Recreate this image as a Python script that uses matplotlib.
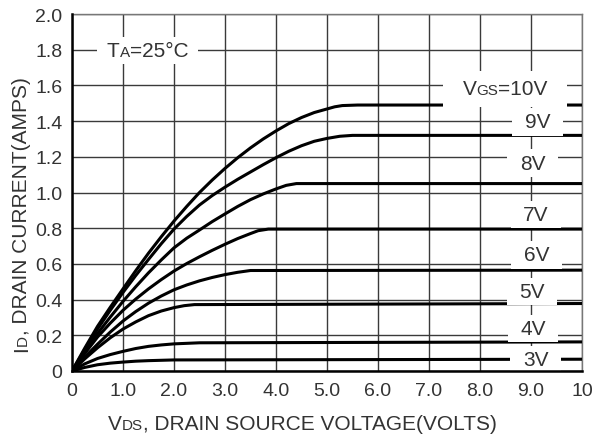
import matplotlib
matplotlib.use("Agg")
import matplotlib.pyplot as plt
from matplotlib.offsetbox import TextArea, HPacker, AnnotationBbox, DrawingArea
from matplotlib.font_manager import FontProperties
from matplotlib.transforms import IdentityTransform

FONT = "Liberation Sans"
TXT = "#333333"

# ---- data ----
vds_10v = [0, 0.25, 0.5, 0.75, 1, 1.25, 1.5, 1.75, 2, 2.25, 2.5, 2.75, 3, 3.25, 3.5,
           3.75, 4, 4.25, 4.5, 4.75, 5, 5.15, 5.3, 5.6, 10]
id_10v = [0, 0.128, 0.25, 0.357, 0.46, 0.562, 0.66, 0.752, 0.84, 0.922, 1.0, 1.07, 1.135,
          1.195, 1.25, 1.30, 1.345, 1.386, 1.42, 1.448, 1.468, 1.48, 1.487, 1.49, 1.49]

vds_9v = [0, 0.25, 0.5, 0.75, 1, 1.25, 1.5, 1.75, 2, 2.25, 2.5, 2.75, 3, 3.25, 3.5,
          3.75, 4, 4.25, 4.5, 4.75, 5, 5.25, 5.5, 10]
id_9v = [0, 0.12, 0.235, 0.34, 0.44, 0.535, 0.625, 0.713, 0.795, 0.866, 0.93, 0.983, 1.03,
         1.074, 1.115, 1.156, 1.195, 1.231, 1.262, 1.287, 1.303, 1.315, 1.32, 1.32]

vds_8v = [0, 0.25, 0.5, 0.75, 1, 1.25, 1.5, 1.75, 2, 2.25, 2.5, 2.75, 3, 3.25, 3.5,
          3.75, 4, 4.2, 4.4, 10]
id_8v = [0, 0.108, 0.21, 0.302, 0.39, 0.472, 0.55, 0.622, 0.69, 0.744, 0.79, 0.837, 0.88,
         0.922, 0.96, 0.992, 1.02, 1.04, 1.05, 1.05]

vds_7v = [0, 0.25, 0.5, 0.75, 1, 1.25, 1.5, 1.75, 2, 2.25, 2.5, 2.75, 3, 3.25, 3.5,
          3.65, 3.85, 10]
id_7v = [0, 0.098, 0.19, 0.268, 0.34, 0.403, 0.46, 0.512, 0.56, 0.602, 0.64, 0.676, 0.71,
         0.742, 0.77, 0.786, 0.795, 0.795]

vds_6v = [0, 0.25, 0.5, 0.75, 1, 1.25, 1.5, 1.75, 2, 2.25, 2.5, 2.75, 3, 3.25, 3.5, 10]
id_6v = [0, 0.078, 0.15, 0.218, 0.28, 0.333, 0.38, 0.42, 0.455, 0.482, 0.505, 0.524, 0.54,
         0.553, 0.563, 0.565]

vds_5v = [0, 0.25, 0.5, 0.75, 1, 1.25, 1.5, 1.75, 2, 2.2, 2.4, 10]
id_5v = [0, 0.068, 0.13, 0.186, 0.235, 0.275, 0.31, 0.336, 0.355, 0.366, 0.372, 0.378]

vds_4v = [0, 0.25, 0.5, 0.75, 1, 1.25, 1.5, 1.75, 2, 2.5, 10]
id_4v = [0, 0.04, 0.07, 0.092, 0.11, 0.126, 0.138, 0.146, 0.152, 0.158, 0.163]

vds_3v = [0, 0.25, 0.5, 0.75, 1, 1.25, 1.5, 2, 10]
id_3v = [0, 0.02, 0.035, 0.044, 0.05, 0.055, 0.058, 0.062, 0.066]

curve_labels = ["10V", "9V", "8V", "7V", "6V", "5V", "4V", "3V"]

x_ticks = [0, 1, 2, 3, 4, 5, 6, 7, 8, 9, 10]
x_tick_labels = ["0", "1.0", "2.0", "3.0", "4.0", "5.0", "6.0", "7.0", "8.0", "9.0", "10"]
y_ticks = [0, 0.2, 0.4, 0.6, 0.8, 1.0, 1.2, 1.4, 1.6, 1.8, 2.0]
y_tick_labels = ["0", "0.2", "0.4", "0.6", "0.8", "1.0", "1.2", "1.4", "1.6", "1.8", "2.0"]

# label placement (layout)
label_x = [8.49, 9.13, 9.03, 9.1, 9.11, 9.02, 9.04, 9.09]
label_y = [1.58, 1.395, 1.165, 0.875, 0.65, 0.447, 0.237, 0.066]

W, H = 592, 439
fig = plt.figure(figsize=(W / 100, H / 100), dpi=100)
ax = fig.add_axes([72 / W, 1 - 372 / H, 510 / W, 357 / H])

curves = [(vds_10v, id_10v), (vds_9v, id_9v), (vds_8v, id_8v), (vds_7v, id_7v),
          (vds_6v, id_6v), (vds_5v, id_5v), (vds_4v, id_4v), (vds_3v, id_3v)]
for xs, ys in curves:
    ax.plot(xs, ys, color="black", lw=2.2, solid_joinstyle="round",
            solid_capstyle="round", zorder=3)

ax.set_xlim(0, 10)
ax.set_ylim(0, 2)
ax.set_xticks(x_ticks, x_tick_labels)
ax.set_yticks(y_ticks, y_tick_labels)
ax.tick_params(axis="both", length=0, labelsize=14, labelcolor=TXT)
ax.tick_params(axis="x", pad=8)
ax.tick_params(axis="y", pad=7)
for lab in ax.get_xticklabels() + ax.get_yticklabels():
    lab.set_fontfamily(FONT)

ax.set_axisbelow(True)
ax.grid(True, color="#3a3a3a", lw=1.0)
for s in ["left", "bottom"]:
    ax.spines[s].set_color("black")
    ax.spines[s].set_linewidth(1.8)
    ax.spines[s].set_zorder(6)
for s in ["top", "right"]:
    ax.spines[s].set_color("#777777")
    ax.spines[s].set_linewidth(1.0)


def boxed_label(parts, xy, padx=5, pad=0.35):
    children = [DrawingArea(padx, 0)]
    for s, sz in parts:
        children.append(TextArea(s, textprops=dict(fontsize=sz, color=TXT, family=FONT)))
    children.append(DrawingArea(padx, 0))
    box = HPacker(children=children, align="baseline", pad=0, sep=0)
    ab = AnnotationBbox(box, xy, xycoords="data", frameon=True, pad=pad,
                        box_alignment=(0.5, 0.5),
                        bboxprops=dict(fc="white", ec="none"), zorder=5)
    ax.add_artist(ab)


boxed_label([("T", 15), ("A", 11), ("=25°C", 15)], (1.48, 1.795), padx=4, pad=0.3)
for i, lab in enumerate(curve_labels):
    if i == 0:
        boxed_label([("V", 15), ("GS", 11), ("=" + lab, 15)], (label_x[i], label_y[i]),
                    padx=8, pad=0.6)
    else:
        boxed_label([(lab, 15)], (label_x[i], label_y[i]), padx=6, pad=0.3)

renderer = fig.canvas.get_renderer()


def rich_text(x, y, parts, rotation=0):
    pos = 0.0
    for s, sz in parts:
        fp = FontProperties(family=FONT, size=sz)
        w, h, d = renderer.get_text_width_height_descent(s, fp, ismath=False)
        if rotation == 0:
            tx, ty = x + pos, y
        else:
            tx, ty = x, y + pos
        fig.text(tx, ty, s, fontproperties=fp, color=TXT, rotation=rotation,
                 rotation_mode="anchor", ha="left", va="baseline",
                 transform=IdentityTransform())
        pos += w


rich_text(108, H - 430, [("V", 15), ("DS", 11), (", DRAIN SOURCE VOLTAGE(VOLTS)", 15)])
rich_text(27, H - 352, [("I", 15), ("D", 11), (", DRAIN CURRENT(AMPS)", 15)], rotation=90)

fig.savefig("out.png", dpi=100, facecolor="white")
